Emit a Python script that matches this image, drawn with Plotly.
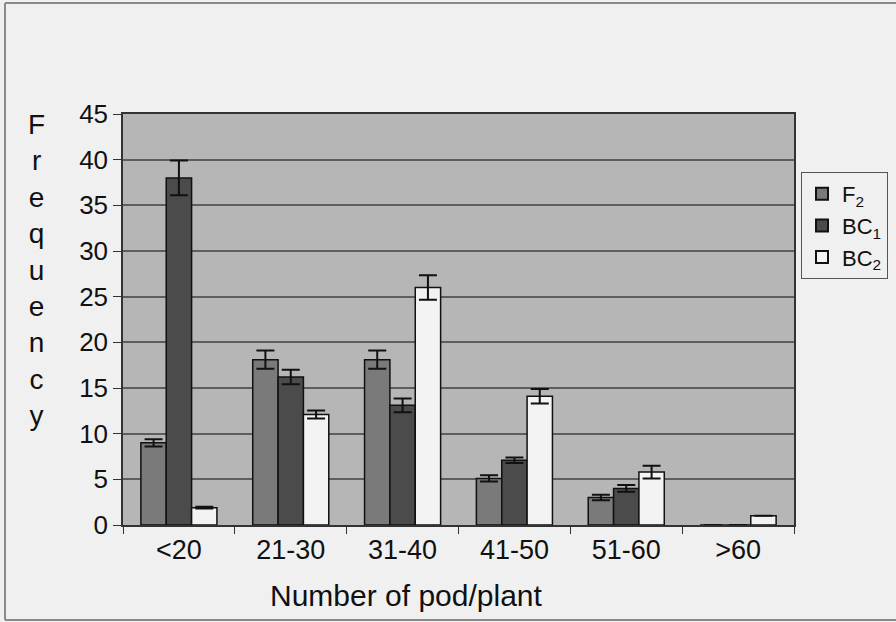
import plotly.graph_objects as go

categories = ["<20", "21-30", "31-40", "41-50", "51-60", ">60"]
f2 = [9.0, 18.1, 18.1, 5.1, 3.0, 0.0]
f2_err = [0.4, 1.0, 1.0, 0.35, 0.3, 0.0]
bc1 = [38.0, 16.2, 13.1, 7.1, 4.0, 0.0]
bc1_err = [1.9, 0.8, 0.75, 0.3, 0.37, 0.0]
bc2 = [1.9, 12.1, 26.0, 14.1, 5.8, 1.0]
bc2_err = [0.1, 0.45, 1.35, 0.8, 0.7, 0.0]
y_ticks = [0, 5, 10, 15, 20, 25, 30, 35, 40, 45]

PAGE = "#f0f0f0"
PLOT_BG = "#b6b6b6"

fig = go.Figure()
series = [
    ("F<sub>2</sub>", f2, f2_err, "#7a7a7a"),
    ("BC<sub>1</sub>", bc1, bc1_err, "#4b4b4b"),
    ("BC<sub>2</sub>", bc2, bc2_err, "#f3f3f3"),
]
for name, vals, errs, col in series:
    fig.add_trace(go.Bar(
        x=categories, y=vals, name=name,
        marker=dict(color=col, line=dict(color="#111111", width=1.5)),
        error_y=dict(type="data", array=errs, visible=True,
                     color="#111111", thickness=2, width=9),
    ))

W, H = 896, 622
L, R, T, B = 123, 102, 114, 97
pw, ph = W - L - R, H - T - B

def px(x):
    return (x - L) / pw

def py(y):
    return (H - B - y) / ph

fig.update_layout(
    width=W, height=H,
    margin=dict(l=L, r=R, t=T, b=B, autoexpand=False),
    paper_bgcolor=PAGE, plot_bgcolor=PLOT_BG,
    barmode="group", bargap=0.32, bargroupgap=0,
    font=dict(family="Liberation Sans, Arial, sans-serif", color="#111111"),
    showlegend=True,
    legend=dict(
        x=px(801), y=py(172), xanchor="left", yanchor="top",
        bgcolor=PAGE, bordercolor="#555555", borderwidth=1,
        font=dict(size=22, color="#111111"),
        itemsizing="constant", itemwidth=30,
    ),
    xaxis=dict(
        tickfont=dict(size=27), showline=True, linecolor="#333333", linewidth=1.5,
        ticks="outside", tickson="boundaries", ticklen=7, tickcolor="#333333",
        mirror=True, showgrid=False,
    ),
    yaxis=dict(
        range=[0, 45], tickvals=y_ticks, tickfont=dict(size=26),
        showline=True, linecolor="#333333", linewidth=1.5,
        ticks="outside", ticklen=8, tickcolor="#333333",
        showgrid=True, gridcolor="#5e5e5e", gridwidth=1.5,
        mirror=True, zeroline=False,
    ),
)

fig.add_annotation(
    text="Number of pod/plant", xref="paper", yref="paper",
    x=px(406), y=py(595), xanchor="center", yanchor="middle",
    showarrow=False, font=dict(size=30, color="#111111"),
)
fig.add_annotation(
    text="<br>".join(list("Frequency")), xref="paper", yref="paper",
    x=px(36), y=py(270), xanchor="center", yanchor="middle",
    showarrow=False, font=dict(size=28, color="#111111"),
)

# page frame lines from the scanned document
for x0, y0, x1, y1 in [(5, 3, 5, 620), (5, 3, 896, 3), (5, 620, 896, 620)]:
    fig.add_shape(type="line", xref="paper", yref="paper",
                  x0=px(x0), y0=py(y0), x1=px(x1), y1=py(y1),
                  line=dict(color="#8a8a8a", width=2))

fig.write_html("out.html")
